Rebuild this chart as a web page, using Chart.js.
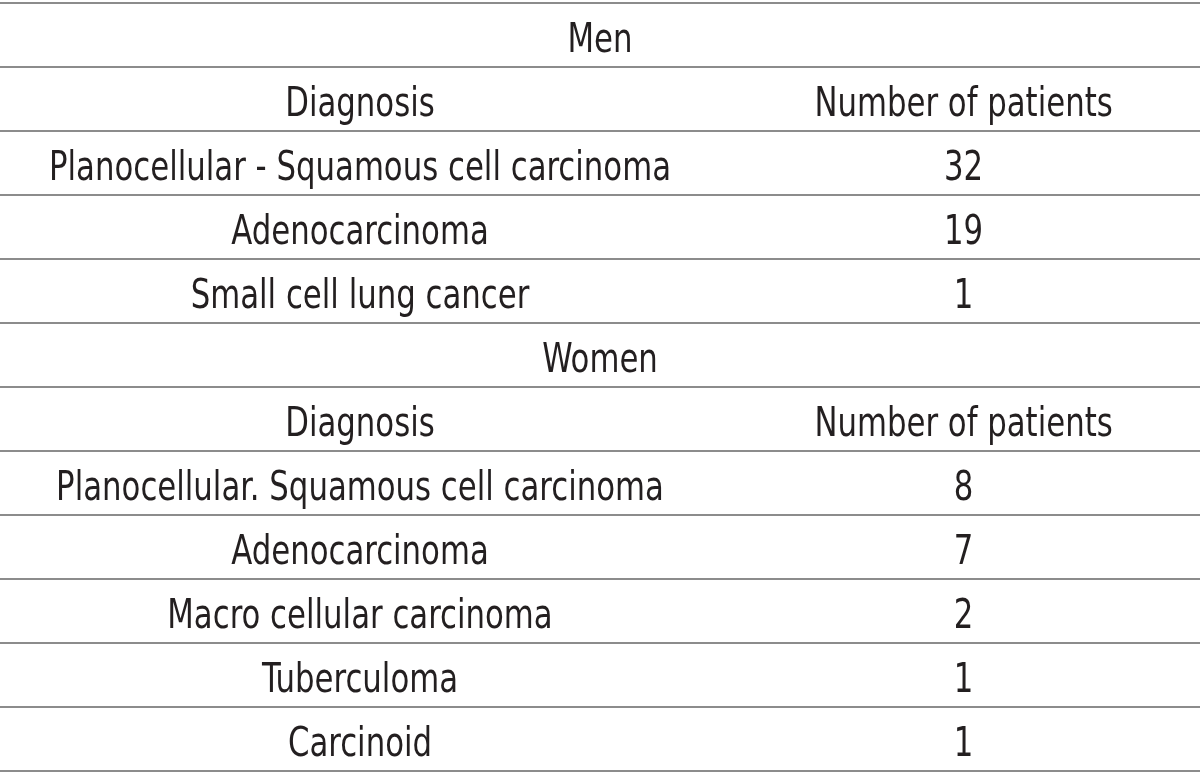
<!DOCTYPE html>
<html lang="en">
<head>
    <meta charset="UTF-8">
    <title>Diagnosis by sex</title>
    <script src="https://cdn.jsdelivr.net/npm/chart.js"></script>
    <style>
        body, html {
            margin: 0;
            background: #ffffff;
        }
        .chart-container {
            position: relative;
            width: 1200px;
            height: 772px;
        }
    </style>
</head>
<body>
    <div class="chart-container">
        <canvas id="tableChart"></canvas>
    </div>

    <script>
        // table content
        const sectionTitles = ['Men', 'Women'];
        const columnHeaders = ['Diagnosis', 'Number of patients'];
        const menDiagnoses = ['Planocellular - Squamous cell carcinoma', 'Adenocarcinoma', 'Small cell lung cancer'];
        const menCounts = [32, 19, 1];
        const womenDiagnoses = ['Planocellular. Squamous cell carcinoma', 'Adenocarcinoma', 'Macro cellular carcinoma', 'Tuberculoma', 'Carcinoid'];
        const womenCounts = [8, 7, 2, 1, 1];

        const COL_DIAG = 0.3;     // column centres as fraction of width
        const COL_COUNT = 0.803;
        const COL_SPAN = 0.5;

        // build cells row by row
        const titleCells = [];
        const diagCells = [];
        const countCells = [];
        let row = 0;
        function addSection(title, names, counts) {
            titleCells.push({ x: COL_SPAN, y: row + 0.5, label: title });
            row++;
            diagCells.push({ x: COL_DIAG, y: row + 0.5, label: columnHeaders[0] });
            countCells.push({ x: COL_COUNT, y: row + 0.5, label: columnHeaders[1] });
            row++;
            names.forEach((name, i) => {
                diagCells.push({ x: COL_DIAG, y: row + 0.5, label: name });
                countCells.push({ x: COL_COUNT, y: row + 0.5, label: String(counts[i]) });
                row++;
            });
        }
        addSection(sectionTitles[0], menDiagnoses, menCounts);
        addSection(sectionTitles[1], womenDiagnoses, womenCounts);
        const rowCount = row;

        // the original typeface is a condensed one, squeeze DejaVu to the same width
        const cellText = {
            id: 'cellText',
            afterDatasetsDraw(chart) {
                const ctx = chart.ctx;
                ctx.save();
                ctx.fillStyle = '#231f20';
                ctx.font = '41px "DejaVu Sans Condensed", "DejaVu Sans", sans-serif';
                ctx.textAlign = 'center';
                ctx.textBaseline = 'alphabetic';
                const sx = 622 / ctx.measureText(menDiagnoses[0]).width;
                chart.data.datasets.forEach((ds, i) => {
                    chart.getDatasetMeta(i).data.forEach((el, j) => {
                        ctx.save();
                        ctx.translate(el.x, el.y + 17);
                        ctx.scale(sx, 1);
                        ctx.fillText(ds.data[j].label, 0, 0);
                        ctx.restore();
                    });
                });
                ctx.restore();
            }
        };

        const pointStyle = { pointRadius: 0, pointHoverRadius: 0, showLine: false };

        new Chart(document.getElementById('tableChart'), {
            type: 'scatter',
            data: {
                datasets: [
                    Object.assign({ label: 'titles', data: titleCells }, pointStyle),
                    Object.assign({ label: 'diagnosis', data: diagCells }, pointStyle),
                    Object.assign({ label: 'count', data: countCells }, pointStyle)
                ]
            },
            options: {
                responsive: true,
                maintainAspectRatio: false,
                animation: false,
                layout: { padding: { top: 3, bottom: 1, left: 0, right: 0 } },
                plugins: {
                    legend: { display: false },
                    tooltip: { enabled: false }
                },
                events: [],
                scales: {
                    x: {
                        type: 'linear',
                        min: 0,
                        max: 1,
                        display: false
                    },
                    y: {
                        type: 'linear',
                        min: 0,
                        max: rowCount,
                        reverse: true,
                        ticks: { display: false, stepSize: 1 },
                        border: { display: false },
                        grid: {
                            color: '#8c8c8c',
                            lineWidth: 2,
                            drawTicks: false
                        },
                        afterFit(scale) { scale.width = 0; }
                    }
                }
            },
            plugins: [cellText]
        });
    </script>
</body>
</html>
